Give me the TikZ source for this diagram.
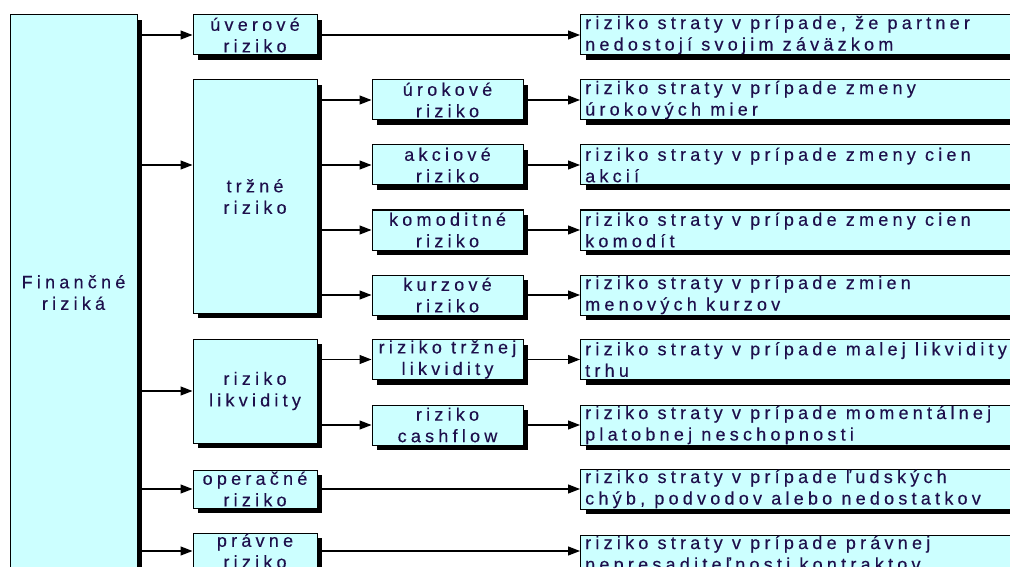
\documentclass[tikz,border=0pt]{standalone}
\usepackage{fontspec}
\setmainfont{Liberation Sans}[LetterSpace=23.5, FakeBold=0.3]
\usetikzlibrary{arrows.meta,shadows}
\definecolor{boxfill}{RGB}{204,255,255}
\definecolor{txt}{RGB}{30,15,75}
\newcommand{\boxfont}{\fontsize{18}{21.5}\selectfont}
\begin{document}
\begin{tikzpicture}[x=1pt,y=-1pt,
  box/.style={draw=black, line width=1pt, fill=boxfill, inner sep=0pt, text=txt,
    font=\boxfont, align=center,
    drop shadow={shadow xshift=5pt, shadow yshift=-5pt, fill=black, opacity=1}},
  lvlone/.style={box, minimum width=124pt},
  lvltwo/.style={box, minimum width=151pt, minimum height=40pt},
  desc/.style={box, anchor=west, minimum width=450pt, minimum height=40pt},
  desctext/.style={anchor=west, align=left, inner xsep=5pt, inner ysep=0pt, text=txt, font=\boxfont, label distance=0pt},
  arr/.style={-{Triangle[length=12pt,width=9pt]}, line width=1.2pt, draw=black}
]
\clip (0,0) rectangle (1010,567);
\fill[white] (0,0) rectangle (1010,567);
% root
\node[box, minimum width=127pt, minimum height=555pt] (big) at (73.5,292.5) {Finančné\\riziká};
% level one
\node[lvlone, minimum height=40pt] (uver) at (255,35) {úverové\\riziko};
\node[lvlone, minimum height=233pt] (trzne) at (255,196.5) {tržné\\riziko};
\node[lvlone, minimum height=104pt] (likv) at (255,391) {riziko\\likvidity};
\node[lvlone, minimum height=38pt] (oper) at (255,489) {operačné\\riziko};
\node[lvlone, minimum height=36pt] (prav) at (255,551) {právne\\riziko};
% level two
\node[lvltwo] (urok) at (447.5,100) {úrokové\\riziko};
\node[lvltwo] (akc) at (447.5,165) {akciové\\riziko};
\node[lvltwo] (kom) at (447.5,230) {komoditné\\riziko};
\node[lvltwo] (kurz) at (447.5,295) {kurzové\\riziko};
\node[lvltwo] (trzlik) at (447.5,359.5) {riziko tržnej\\likvidity};
\node[lvltwo] (cash) at (447.5,425) {riziko\\cashflow};
% descriptions
\node[desc, label={[desctext]west:{riziko straty v prípade, že partner\\nedostojí svojim záväzkom}}] (d1) at (580,35) {};
\node[desc, label={[desctext]west:{riziko straty v prípade zmeny\\úrokových mier}}] (d2) at (580,100) {};
\node[desc, label={[desctext]west:{riziko straty v prípade zmeny cien\\akcií}}] (d3) at (580,165) {};
\node[desc, label={[desctext]west:{riziko straty v prípade zmeny cien\\komodít}}] (d4) at (580,230) {};
\node[desc, label={[desctext]west:{riziko straty v prípade zmien\\menových kurzov}}] (d5) at (580,295) {};
\node[desc, label={[desctext]west:{riziko straty v prípade malej likvidity\\trhu}}] (d6) at (580,359.5) {};
\node[desc, label={[desctext]west:{riziko straty v prípade momentálnej\\platobnej neschopnosti}}] (d7) at (580,425) {};
\node[desc, label={[desctext]west:{riziko straty v prípade ľudských\\chýb, podvodov alebo nedostatkov}}] (d8) at (580,489) {};
\node[desc, label={[desctext]west:{riziko straty v prípade právnej\\nepresaditeľnosti kontraktov}}] (d9) at (580,555) {};
% root to level one
\draw[arr] (big.east |- uver.west) -- (uver.west);
\draw[arr] (big.east |- akc.west) -- (trzne.west |- akc.west);
\draw[arr] (big.east |- likv.west) -- (likv.west);
\draw[arr] (big.east |- oper.west) -- (oper.west);
\draw[arr] (big.east |- prav.west) -- (prav.west);
% level one to level two
\foreach \t in {urok,akc,kom,kurz}{\draw[arr] (trzne.east |- \t.west) -- (\t.west);}
\foreach \t in {trzlik,cash}{\draw[arr] (likv.east |- \t.west) -- (\t.west);}
% to descriptions
\draw[arr] (uver.east) -- (uver.east -| d1.west);
\draw[arr] (urok.east) -- (urok.east -| d2.west);
\draw[arr] (akc.east) -- (akc.east -| d3.west);
\draw[arr] (kom.east) -- (kom.east -| d4.west);
\draw[arr] (kurz.east) -- (kurz.east -| d5.west);
\draw[arr] (trzlik.east) -- (trzlik.east -| d6.west);
\draw[arr] (cash.east) -- (cash.east -| d7.west);
\draw[arr] (oper.east) -- (oper.east -| d8.west);
\draw[arr] (prav.east) -- (prav.east -| d9.west);
\end{tikzpicture}
\end{document}
